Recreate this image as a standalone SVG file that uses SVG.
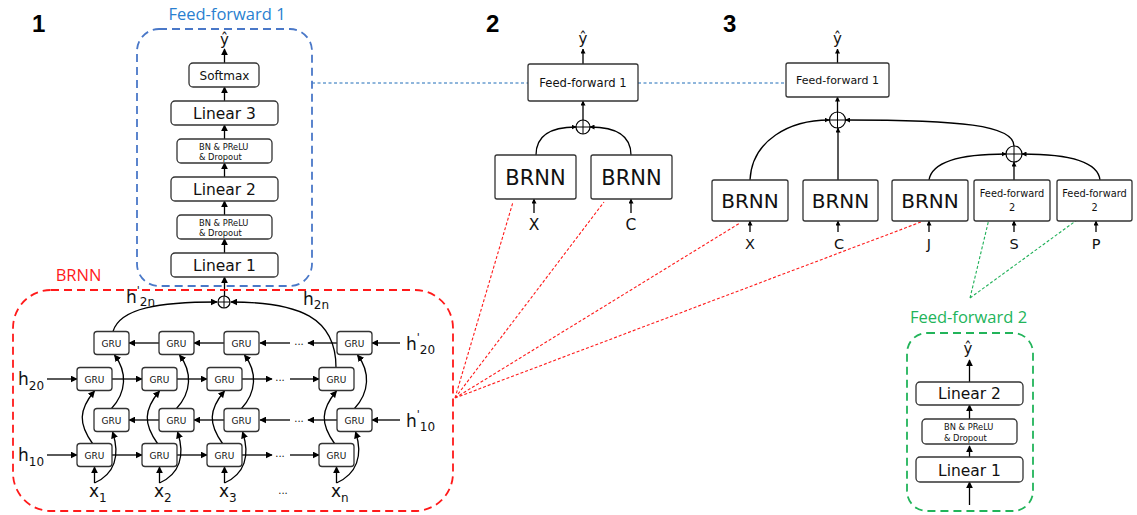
<svg xmlns="http://www.w3.org/2000/svg" width="1137" height="515" viewBox="0 0 1137 515">
<defs>
<style>
.box{fill:#fff;stroke:#333;stroke-width:1.3}
.t{font-family:"DejaVu Sans",sans-serif;fill:#111;text-anchor:middle}
.ts{font-family:"DejaVu Sans",sans-serif;fill:#111}
.ln{fill:none;stroke:#000;stroke-width:1.3}
.num{font-family:"Liberation Sans",Arial,sans-serif;font-weight:bold;font-size:24px;fill:#000}
.title{font-family:"Open Sans",sans-serif;font-size:16.5px;text-anchor:middle}
.gru{font-family:"DejaVu Sans",sans-serif;font-size:9px;fill:#111;text-anchor:middle}
.lbl{font-family:"DejaVu Sans",sans-serif;font-size:17px;fill:#111}
.plus{fill:#fff;stroke:#000;stroke-width:1.2}
</style>
<marker id="a" viewBox="0 0 10 10" refX="9" refY="5" markerWidth="7" markerHeight="7" markerUnits="userSpaceOnUse" orient="auto"><path d="M0,0 L10,5 L0,10 z" fill="#000"/></marker>
<marker id="s" viewBox="0 0 10 10" refX="9" refY="5" markerWidth="5" markerHeight="5" markerUnits="userSpaceOnUse" orient="auto"><path d="M0,0 L10,5 L0,10 z" fill="#000"/></marker>
</defs>
<rect width="1137" height="515" fill="#fff"/>

<text class="num" x="32" y="32">1</text>
<text class="num" x="486" y="32">2</text>
<text class="num" x="723" y="32">3</text>

<!-- connectors -->
<g id="connectors">
  <!-- blue dashed references -->
  <path d="M312,83 H528 M638,83 H786" fill="none" stroke="#1f6cb8" stroke-width="1" stroke-dasharray="3,2.5"/>
  <!-- red dotted references -->
  <path d="M455,398 L513,202 M455,398 L604,202 M455,398 L740,223 M455,398 L921,222" fill="none" stroke="#ff1a1a" stroke-width="1.1" stroke-dasharray="3,2"/>
  <!-- green dotted references -->
  <path d="M970,298 L989,219 M970,298 L1077,220" fill="none" stroke="#1fb058" stroke-width="1.1" stroke-dasharray="3,2"/>

  <!-- FF1 panel arrows -->
  <g class="ln" marker-end="url(#a)">
    <path d="M224.5,296 V277"/>
    <path d="M224.5,253 V239"/>
    <path d="M224.5,215 V201"/>
    <path d="M224.5,177 V163"/>
    <path d="M224.5,139 V125"/>
    <path d="M224.5,101 V87"/>
    <path d="M224.5,63 V49"/>
  </g>

  <!-- BRNN internal arrows -->
  <g class="ln" marker-end="url(#a)">
    <!-- row A backward (y=343) -->
    <path d="M400,343 H372"/><path d="M337,343 H308"/><path d="M290,343 H260"/><path d="M224,343 H194"/><path d="M159,343 H129"/>
    <!-- row B forward (y=379) -->
    <path d="M47,379 H77"/><path d="M112,379 H142"/><path d="M177,379 H207"/><path d="M242,379 H272"/><path d="M290,379 H319"/>
    <!-- row C backward (y=420) -->
    <path d="M400,420 H372"/><path d="M337,420 H308"/><path d="M290,420 H260"/><path d="M224,420 H194"/><path d="M159,420 H129"/>
    <!-- row D forward (y=455) -->
    <path d="M47,455 H77"/><path d="M112,455 H142"/><path d="M177,455 H207"/><path d="M242,455 H272"/><path d="M290,455 H319"/>

    <!-- column 1: cf=94.5 cb=111.5 -->
    <path d="M94.5,483 V467"/>
    <path d="M94.5,483 C114.5,474 120.5,456 112.5,432"/>
    <path d="M92.5,443.5 C78.5,424 78.5,410 94.5,391"/>
    <path d="M111.5,408.5 C126.5,392 127.5,372 114.5,355"/>
    <!-- column 2: cf=159.5 cb=176.5 -->
    <path d="M159.5,483 V467"/>
    <path d="M159.5,483 C179.5,474 185.5,456 177.5,432"/>
    <path d="M157.5,443.5 C143.5,424 143.5,410 159.5,391"/>
    <path d="M176.5,408.5 C191.5,392 192.5,372 179.5,355"/>
    <!-- column 3: cf=224.5 cb=241.5 -->
    <path d="M224.5,483 V467"/>
    <path d="M224.5,483 C244.5,474 250.5,456 242.5,432"/>
    <path d="M222.5,443.5 C208.5,424 208.5,410 224.5,391"/>
    <path d="M241.5,408.5 C256.5,392 257.5,372 244.5,355"/>
    <!-- column n: cf=336.5 cb=354.5 -->
    <path d="M336.5,483 V467"/>
    <path d="M336.5,483 C356.5,474 363.5,456 355.5,432"/>
    <path d="M334.5,443.5 C320.5,424 320.5,410 336.5,391"/>
    <path d="M354.5,408.5 C369.5,392 370.5,372 357.5,355"/>

    <!-- outputs to sum -->
    <path d="M113,331.5 C120,308 160,302 217,302"/>
    <path d="M336,367.5 C336,318 300,302 231,302"/>
  </g>

  <!-- panel 2 arrows -->
  <g class="ln" marker-end="url(#s)">
    <path d="M583,64 V49"/>
    <path d="M583,120 V101"/>
    <path d="M536,155 C536,136 550,127 576,127"/>
    <path d="M631,155 C631,136 617,127 590,127"/>
    <path d="M534,213 V199"/>
    <path d="M631,213 V199"/>
  </g>

  <!-- panel 3 arrows -->
  <g class="ln" marker-end="url(#s)">
    <path d="M837.5,63 V49"/>
    <path d="M837.5,112 V97"/>
    <path d="M750,180 C752,140 790,120 829,120"/>
    <path d="M838,180 V128"/>
    <path d="M1014,146 C1014,125 960,120 845.5,120"/>
    <path d="M929,180 C932,162 960,154 1006,154"/>
    <path d="M1014,180 V162"/>
    <path d="M1100,180 C1098,162 1070,154 1022,154"/>
    <path d="M750,232 V221"/>
    <path d="M838,232 V221"/>
    <path d="M929,232 V221"/>
    <path d="M1014,232 V221"/>
    <path d="M1096,232 V221"/>
  </g>

  <!-- FF2 panel arrows -->
  <g class="ln" marker-end="url(#a)">
    <path d="M969.5,505 V482"/>
    <path d="M969.5,457 V446"/>
    <path d="M969.5,419 V405"/>
    <path d="M969.5,382 V360"/>
  </g>
</g>

<!-- Feed-forward 1 panel -->
<g id="ff1-panel">
  <rect x="137" y="29" width="175" height="257" rx="22" fill="none" stroke="#4a78c8" stroke-width="1.8" stroke-dasharray="8,5"/>
  <text class="title" x="227" y="20" fill="#2a7fd0">Feed-forward 1</text>
  <text class="t" x="224.5" y="45" font-size="15">ŷ</text>
</g>
<g id="softmax"><rect class="box" x="189" y="63" width="70" height="24" rx="4"/><text class="t" x="224.5" y="79.5" font-size="12">Softmax</text></g>
<g id="linear3"><rect class="box" x="171" y="101" width="107" height="24" rx="4"/><text class="t" x="224.5" y="118.7" font-size="15.5">Linear 3</text></g>
<g id="bn1"><rect class="box" x="177" y="139" width="95" height="24" rx="4"/><text class="ts" x="199" y="149.5" font-size="8.3">BN &amp; PReLU</text><text class="ts" x="199" y="159.5" font-size="8.3">&amp; Dropout</text></g>
<g id="linear2"><rect class="box" x="171" y="177" width="107" height="24" rx="4"/><text class="t" x="224.5" y="194.7" font-size="15.5">Linear 2</text></g>
<g id="bn2"><rect class="box" x="177" y="215" width="95" height="24" rx="4"/><text class="ts" x="199" y="225.5" font-size="8.3">BN &amp; PReLU</text><text class="ts" x="199" y="235.5" font-size="8.3">&amp; Dropout</text></g>
<g id="linear1"><rect class="box" x="171" y="253" width="107" height="24" rx="4"/><text class="t" x="224.5" y="270.7" font-size="15.5">Linear 1</text></g>

<!-- BRNN panel -->
<g id="brnn-panel">
  <rect x="13" y="290" width="440" height="221" rx="38" fill="none" stroke="#ff1a1a" stroke-width="1.8" stroke-dasharray="8,5"/>
  <text class="title" x="78.5" y="281" fill="#ff1a1a">BRNN</text>
  <circle class="plus" cx="224" cy="302" r="6"/>
  <path d="M218,302 H230 M224,296 V308" stroke="#000" stroke-width="1"/>
  <text class="lbl" x="18" y="385">h<tspan dy="5" font-size="12">20</tspan></text>
  <text class="lbl" x="18" y="461">h<tspan dy="5" font-size="12">10</tspan></text>
  <text class="lbl" x="406" y="350">h<tspan dy="-9" font-size="11">'</tspan><tspan dy="13" font-size="12">20</tspan></text>
  <text class="lbl" x="406" y="427">h<tspan dy="-9" font-size="11">'</tspan><tspan dy="13" font-size="12">10</tspan></text>
  <text class="lbl" x="126" y="303">h<tspan dy="-9" font-size="11">'</tspan><tspan dy="12" font-size="12">2n</tspan></text>
  <text class="lbl" x="303" y="305">h<tspan dy="4" font-size="12">2n</tspan></text>
  <text class="lbl" x="89" y="497">x<tspan dy="5" font-size="12">1</tspan></text>
  <text class="lbl" x="154" y="497">x<tspan dy="5" font-size="12">2</tspan></text>
  <text class="lbl" x="219" y="497">x<tspan dy="5" font-size="12">3</tspan></text>
  <text class="lbl" x="331" y="497">x<tspan dy="5" font-size="12">n</tspan></text>
  <text class="t" x="283" y="494" font-size="10">...</text>
  <text class="t" x="299" y="345" font-size="10">...</text>
  <text class="t" x="280" y="381" font-size="10">...</text>
  <text class="t" x="299" y="422" font-size="10">...</text>
  <text class="t" x="280" y="457" font-size="10">...</text>
</g>
<g id="gru-a1"><rect class="box" x="94" y="331.5" width="35" height="23" rx="3"/><text class="gru" x="111.5" y="346.5">GRU</text></g>
<g id="gru-a2"><rect class="box" x="159" y="331.5" width="35" height="23" rx="3"/><text class="gru" x="176.5" y="346.5">GRU</text></g>
<g id="gru-a3"><rect class="box" x="224" y="331.5" width="35" height="23" rx="3"/><text class="gru" x="241.5" y="346.5">GRU</text></g>
<g id="gru-an"><rect class="box" x="337" y="331.5" width="35" height="23" rx="3"/><text class="gru" x="354.5" y="346.5">GRU</text></g>
<g id="gru-b1"><rect class="box" x="77" y="367.5" width="35" height="23" rx="3"/><text class="gru" x="94.5" y="382.5">GRU</text></g>
<g id="gru-b2"><rect class="box" x="142" y="367.5" width="35" height="23" rx="3"/><text class="gru" x="159.5" y="382.5">GRU</text></g>
<g id="gru-b3"><rect class="box" x="207" y="367.5" width="35" height="23" rx="3"/><text class="gru" x="224.5" y="382.5">GRU</text></g>
<g id="gru-bn"><rect class="box" x="319" y="367.5" width="35" height="23" rx="3"/><text class="gru" x="336.5" y="382.5">GRU</text></g>
<g id="gru-c1"><rect class="box" x="94" y="408.5" width="35" height="23" rx="3"/><text class="gru" x="111.5" y="423.5">GRU</text></g>
<g id="gru-c2"><rect class="box" x="159" y="408.5" width="35" height="23" rx="3"/><text class="gru" x="176.5" y="423.5">GRU</text></g>
<g id="gru-c3"><rect class="box" x="224" y="408.5" width="35" height="23" rx="3"/><text class="gru" x="241.5" y="423.5">GRU</text></g>
<g id="gru-cn"><rect class="box" x="337" y="408.5" width="35" height="23" rx="3"/><text class="gru" x="354.5" y="423.5">GRU</text></g>
<g id="gru-d1"><rect class="box" x="77" y="443.5" width="35" height="23" rx="3"/><text class="gru" x="94.5" y="458.5">GRU</text></g>
<g id="gru-d2"><rect class="box" x="142" y="443.5" width="35" height="23" rx="3"/><text class="gru" x="159.5" y="458.5">GRU</text></g>
<g id="gru-d3"><rect class="box" x="207" y="443.5" width="35" height="23" rx="3"/><text class="gru" x="224.5" y="458.5">GRU</text></g>
<g id="gru-dn"><rect class="box" x="319" y="443.5" width="35" height="23" rx="3"/><text class="gru" x="336.5" y="458.5">GRU</text></g>

<!-- Panel 2 -->
<g id="p2-yhat"><text class="t" x="583" y="44" font-size="15">ŷ</text></g>
<g id="p2-ff1"><rect class="box" x="528" y="64" width="110" height="37" rx="2"/><text class="t" x="583" y="87" font-size="11.6">Feed-forward 1</text></g>
<g id="p2-sum"><circle class="plus" cx="583" cy="127" r="7"/><path d="M576,127 H590 M583,120 V134" stroke="#000" stroke-width="1"/></g>
<g id="p2-brnn-x"><rect class="box" x="495" y="155" width="81" height="44" rx="2"/><text class="t" x="535.5" y="184.5" font-size="21">BRNN</text></g>
<g id="p2-brnn-c"><rect class="box" x="591" y="155" width="81" height="44" rx="2"/><text class="t" x="631.5" y="184.5" font-size="21">BRNN</text></g>
<g id="p2-x"><text class="t" x="534" y="230" font-size="15.5">X</text></g>
<g id="p2-c"><text class="t" x="631" y="230" font-size="15.5">C</text></g>

<!-- Panel 3 -->
<g id="p3-yhat"><text class="t" x="837.5" y="44" font-size="15">ŷ</text></g>
<g id="p3-ff1"><rect class="box" x="786" y="63" width="103" height="34" rx="2"/><text class="t" x="837.5" y="84" font-size="11">Feed-forward 1</text></g>
<g id="p3-sum1"><circle class="plus" cx="837.5" cy="120" r="8"/><path d="M829.5,120 H845.5 M837.5,112 V128" stroke="#000" stroke-width="1"/></g>
<g id="p3-sum2"><circle class="plus" cx="1014" cy="154" r="8"/><path d="M1006,154 H1022 M1014,146 V162" stroke="#000" stroke-width="1"/></g>
<g id="p3-brnn-x"><rect class="box" x="712" y="180" width="76" height="41" rx="2"/><text class="t" x="750" y="208" font-size="20">BRNN</text></g>
<g id="p3-brnn-c"><rect class="box" x="803" y="180" width="75" height="41" rx="2"/><text class="t" x="840.5" y="208" font-size="20">BRNN</text></g>
<g id="p3-brnn-j"><rect class="box" x="892" y="180" width="76" height="41" rx="2"/><text class="t" x="930" y="208" font-size="20">BRNN</text></g>
<g id="p3-ff2-s"><rect class="box" x="974" y="180" width="76" height="41" rx="2"/><text class="t" x="1012" y="197" font-size="9.8">Feed-forward</text><text class="t" x="1012" y="211" font-size="9.8">2</text></g>
<g id="p3-ff2-p"><rect class="box" x="1057" y="180" width="75" height="41" rx="2"/><text class="t" x="1094.5" y="197" font-size="9.8">Feed-forward</text><text class="t" x="1094.5" y="211" font-size="9.8">2</text></g>
<g id="p3-labels">
  <text class="t" x="750" y="249" font-size="14.5">X</text>
  <text class="t" x="839" y="249" font-size="14.5">C</text>
  <text class="t" x="929" y="249" font-size="14.5">J</text>
  <text class="t" x="1014" y="249" font-size="14.5">S</text>
  <text class="t" x="1096" y="249" font-size="14.5">P</text>
</g>

<!-- Feed-forward 2 panel -->
<g id="ff2-panel">
  <rect x="907" y="333" width="126" height="178" rx="20" fill="none" stroke="#22b45a" stroke-width="1.8" stroke-dasharray="8,5"/>
  <text class="title" x="968.5" y="323" fill="#22b45a">Feed-forward 2</text>
  <text class="t" x="968" y="354" font-size="15">ŷ</text>
</g>
<g id="ff2-linear2"><rect class="box" x="916" y="382" width="107" height="23" rx="4"/><text class="t" x="969.5" y="399" font-size="15.5">Linear 2</text></g>
<g id="ff2-bn"><rect class="box" x="922" y="419" width="95" height="25" rx="4"/><text class="ts" x="944" y="430" font-size="8.3">BN &amp; PReLU</text><text class="ts" x="944" y="441" font-size="8.3">&amp; Dropout</text></g>
<g id="ff2-linear1"><rect class="box" x="916" y="457" width="107" height="25" rx="4"/><text class="t" x="969.5" y="475.5" font-size="15.5">Linear 1</text></g>
</svg>
